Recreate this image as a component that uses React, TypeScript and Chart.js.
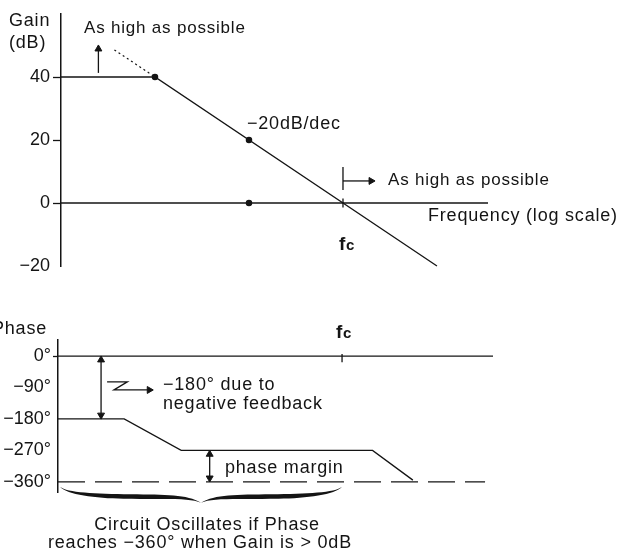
import React, { useEffect, useRef } from "react";
import { Chart, registerables } from "chart.js";
Chart.register(...registerables);

const FONT = "'Liberation Sans', Arial, Helvetica, sans-serif";
const INK = "#141414";

// ---------- Gain plot (frequency in Hz on a log scale, gain in dB) ----------
const gainTicks = [-20, 0, 20, 40];
const gainFreq = [1, 10, 10000];
const gainDb = [40, 40, -20];
const extFreq = [3.7, 10];
const extDb = [48.6, 40];
const dotFreq = [10, 100, 100];
const dotDb = [40, 20, 0];
const zeroFreq = [1, 34900];
const zeroDb = [0, 0];
const fcTickFreq = [1000, 1000];
const fcTickDb = [1.4, -1.4];
const upArrowFreq = [2.5, 2.5];
const upArrowDb = [41.3, 48.9];
const fcBarFreq = [1000, 1000];
const fcBarDb = [11.4, 4.1];
const fcArrowFreq = [1000, 1990];
const fcArrowDb = [7, 7];

// ---------- Phase plot (degrees) ----------
const phaseTicks = [-360, -270, -180, -90, 0];
const phaseFreq = [1, 5, 20, 2100, 5600];
const phaseDeg = [-180, -180, -270, -270, -355];
const zeroPhaseFreq = [1, 39300];
const zeroPhaseDeg = [0, 0];
const limitFreq = [1, 32400];
const limitDeg = [-360, -360];
const fcPhaseTickFreq = [1000, 1000];
const fcPhaseTickDeg = [6, -18];
const fbArrowFreq = [2.85, 2.85];
const fbArrowDeg = [-11, -169];
const marginArrowFreq = [40, 40];
const marginArrowDeg = [-281, -349];
const zFreq = [3.3, 5.4, 3.9, 9.2];
const zDeg = [-74, -74, -97, -97];
const braceFreq = [1.05, 1000];

const pts = (xs: number[], ys: number[]) => xs.map((x, i) => ({ x, y: ys[i] }));
const minus = (v: number) => (v < 0 ? "\u2212" + Math.abs(v) : String(v));

function line(xs: number[], ys: number[], extra: any = {}) {
  return {
    data: pts(xs, ys),
    borderColor: INK,
    backgroundColor: INK,
    borderWidth: 1.3,
    pointRadius: 0,
    tension: 0,
    clip: false,
    ...extra,
  };
}
function arrow(xs: number[], ys: number[], radii: number[], rots: number[]) {
  return line(xs, ys, {
    pointRadius: radii,
    pointStyle: "triangle",
    pointRotation: rots,
    pointBorderWidth: 1,
    pointBorderColor: INK,
    pointBackgroundColor: INK,
  });
}

type Label = {
  t: string;
  x: number;
  y: number;
  align?: CanvasTextAlign;
  size?: number;
  bold?: boolean;
  ls?: number;
  base?: CanvasTextBaseline;
};

function textPlugin(id: string, labels: Label[], dy: number, extra?: (c: any) => void) {
  return {
    id,
    afterDraw(chart: any) {
      const ctx = chart.ctx as CanvasRenderingContext2D;
      ctx.save();
      ctx.fillStyle = INK;
      for (const l of labels) {
        ctx.font = `${l.bold ? "bold " : ""}${l.size ?? 18}px ${FONT}`;
        ctx.textAlign = l.align ?? "left";
        ctx.textBaseline = l.base ?? "middle";
        (ctx as any).letterSpacing = (l.ls ?? 0.8) + "px";
        ctx.fillText(l.t, l.x, l.y - dy);
      }
      if (extra) extra(chart);
      ctx.restore();
    },
  };
}

const gainLabels: Label[] = [
  { t: "Gain", x: 9, y: 21 },
  { t: "(dB)", x: 9, y: 43 },
  { t: "As high as possible", x: 84, y: 28, size: 17 },
  { t: "\u221220dB/dec", x: 247, y: 124 },
  { t: "As high as possible", x: 388, y: 180, size: 17 },
  { t: "Frequency (log scale)", x: 428, y: 216 },
  { t: "f", x: 339, y: 250, bold: true, size: 19, base: "alphabetic", ls: 0 },
  { t: "c", x: 346, y: 250, bold: true, size: 15, base: "alphabetic", ls: 0 },
];

const phaseLabels: Label[] = [
  { t: "Phase", x: 47, y: 329, align: "right" },
  { t: "f", x: 336, y: 338, bold: true, size: 19, base: "alphabetic", ls: 0 },
  { t: "c", x: 343, y: 338, bold: true, size: 15, base: "alphabetic", ls: 0 },
  { t: "\u2212180\u00b0 due to", x: 163, y: 385 },
  { t: "negative feedback", x: 163, y: 404 },
  { t: "phase margin", x: 225, y: 468 },
  { t: "Circuit Oscillates if Phase", x: 207, y: 525, align: "center" },
  { t: "reaches \u2212360\u00b0 when Gain is > 0dB", x: 200, y: 543, align: "center" },
];

function drawBrace(chart: any) {
  const ctx = chart.ctx as CanvasRenderingContext2D;
  const xs = chart.scales.x;
  const ys = chart.scales.y;
  const x0 = xs.getPixelForValue(braceFreq[0]);
  const x1 = xs.getPixelForValue(braceFreq[1]);
  const y0 = ys.getPixelForValue(-360) + 5;
  const xm = (x0 + x1) / 2;
  const d = 16;
  const half = (xe: number) => {
    const s = Math.sign(xm - xe);
    const L = Math.abs(xm - xe);
    const X = (f: number) => xe + s * L * f;
    ctx.beginPath();
    ctx.moveTo(xe, y0);
    ctx.bezierCurveTo(X(0.05), y0 + 6, X(0.25), y0 + 7, X(0.5), y0 + 7.5);
    ctx.bezierCurveTo(X(0.75), y0 + 8, X(0.9), y0 + 7.5, xm, y0 + d);
    ctx.bezierCurveTo(X(0.92), y0 + 10.5, X(0.75), y0 + 12.5, X(0.45), y0 + 12);
    ctx.bezierCurveTo(X(0.25), y0 + 11.5, X(0.05), y0 + 8, xe, y0);
    ctx.closePath();
    ctx.fill();
  };
  ctx.fillStyle = INK;
  half(x0);
  half(x1);
}

function yAxis(min: number, max: number, ticks: number[], width: number, tl: number, pad: number, fmt: (v: number) => string, tickOn: (v: number) => boolean) {
  return {
    type: "linear",
    min,
    max,
    afterFit: (s: any) => {
      s.width = width;
    },
    afterBuildTicks: (s: any) => {
      s.ticks = ticks.map((v) => ({ value: v }));
    },
    grid: {
      display: true,
      drawOnChartArea: false,
      drawTicks: true,
      tickLength: tl,
      tickWidth: 1.3,
      tickColor: (c: any) => (c.tick && tickOn(c.tick.value) ? INK : "rgba(0,0,0,0)"),
    },
    border: { display: true, color: INK, width: 1.5 },
    ticks: {
      color: INK,
      padding: pad,
      font: { family: FONT, size: 18 },
      callback: (v: any) => fmt(Number(v)),
    },
  };
}

function baseOptions(padding: any, xmax: number, y: any) {
  return {
    animation: false,
    responsive: false,
    events: [],
    layout: { padding },
    plugins: { legend: { display: false }, tooltip: { enabled: false } },
    scales: {
      x: { type: "logarithmic", min: 1, max: xmax, display: false },
      y,
    },
  };
}

export default function App() {
  const topRef = useRef<HTMLCanvasElement>(null);
  const botRef = useRef<HTMLCanvasElement>(null);

  useEffect(() => {
    const top = new Chart(topRef.current as HTMLCanvasElement, {
      type: "line",
      data: {
        datasets: [
          line(gainFreq, gainDb),
          line(extFreq, extDb, { borderDash: [2, 3], borderWidth: 1.2 }),
          line(zeroFreq, zeroDb),
          line(fcTickFreq, fcTickDb),
          line(dotFreq, dotDb, { showLine: false, pointRadius: 2.6, pointStyle: "circle", pointBackgroundColor: INK, pointBorderColor: INK }),
          arrow(upArrowFreq, upArrowDb, [0, 4], [0, 0]),
          line(fcBarFreq, fcBarDb),
          arrow(fcArrowFreq, fcArrowDb, [0, 4], [0, 90]),
        ] as any,
      },
      options: baseOptions(
        { top: 14, right: 131, bottom: 14, left: 0 },
        34900,
        yAxis(-20, 60, gainTicks, 61, 8, 3, minus, (v) => v !== -20)
      ) as any,
      plugins: [textPlugin("gainText", gainLabels, 0)],
    });

    const bot = new Chart(botRef.current as HTMLCanvasElement, {
      type: "line",
      data: {
        datasets: [
          line(zeroPhaseFreq, zeroPhaseDeg),
          line(fcPhaseTickFreq, fcPhaseTickDeg),
          line(phaseFreq, phaseDeg),
          line(limitFreq, limitDeg, { borderDash: [27, 10], borderWidth: 1.2 }),
          arrow(fbArrowFreq, fbArrowDeg, [4, 4], [0, 180]),
          arrow(marginArrowFreq, marginArrowDeg, [4, 4], [0, 180]),
          arrow(zFreq, zDeg, [0, 0, 0, 4], [0, 0, 0, 90]),
        ] as any,
      },
      options: baseOptions(
        { top: 60, right: 126, bottom: 59, left: 0 },
        39300,
        yAxis(-389, 46, phaseTicks, 58, 5, 2, (v) => minus(v) + "\u00b0", (v) => v === 0)
      ) as any,
      plugins: [textPlugin("phaseText", phaseLabels, 280, drawBrace)],
    });

    return () => {
      top.destroy();
      bot.destroy();
    };
  }, []);

  return (
    <div style={{ position: "absolute", left: 0, top: 0, width: 619, height: 551, background: "#fff" }}>
      <canvas ref={topRef} width={619} height={280} style={{ display: "block" }} />
      <canvas ref={botRef} width={619} height={271} style={{ display: "block" }} />
    </div>
  );
}
